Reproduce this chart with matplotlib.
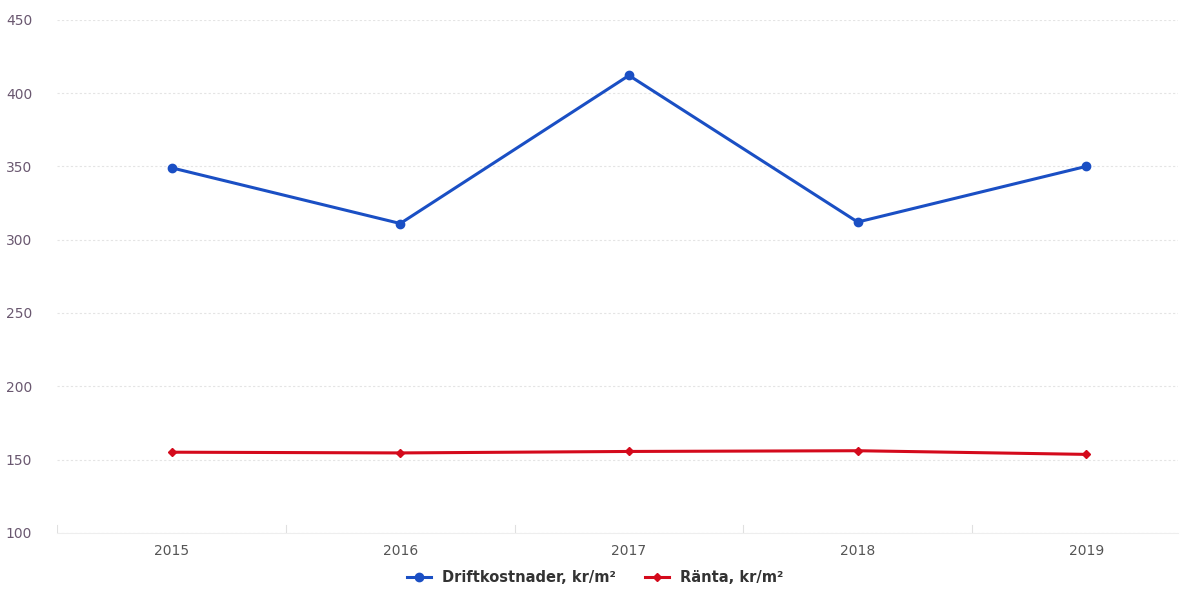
import matplotlib
matplotlib.use("Agg")
import matplotlib.pyplot as plt

years = ["2015", "2016", "2017", "2018", "2019"]
drift = [349, 311, 412, 312, 350]
ranta = [155, 154.5, 155.5, 156, 153.5]
yticks = [100, 150, 200, 250, 300, 350, 400, 450]

fig = plt.figure(figsize=(11.91, 5.98), dpi=100)
ax = fig.add_axes([0.048, 0.109, 0.941, 0.858])

x = range(len(years))
ax.plot(x, drift, color="#1a4fc4", lw=2.2, marker="o", ms=6,
        label="Driftkostnader, kr/m²", zorder=3)
ax.plot(x, ranta, color="#d40a1c", lw=2.2, marker="D", ms=4,
        label="Ränta, kr/m²", zorder=3)

ax.set_ylim(100, 450)
ax.set_xlim(-0.5, 4.4)
ax.set_yticks(yticks)
ax.set_xticks(list(x))
ax.set_xticklabels(years)
ax.grid(axis="y", color="#e4e4e4", lw=0.8, ls=(0, (2, 2)))
ax.set_axisbelow(True)
for s in ax.spines.values():
    s.set_visible(False)
ax.spines["bottom"].set_visible(True)
ax.spines["bottom"].set_color("#eeeeee")
ax.tick_params(axis="y", length=0, pad=18, labelsize=10, labelcolor="#6a5870")
ax.tick_params(axis="x", length=0, pad=8, labelsize=10, labelcolor="#555555")
for b in [-0.5, 0.5, 1.5, 2.5, 3.5]:
    ax.axvline(b, ymin=0, ymax=0.015, color="#e0e0e0", lw=0.8)

leg = fig.legend(loc="lower center", bbox_to_anchor=(0.5, 0.0), ncol=2,
                 frameon=False, prop={"weight": "bold", "size": 10.5},
                 handlelength=1.6, columnspacing=2.0)
for t in leg.get_texts():
    t.set_color("#333333")

fig.savefig("out.png", dpi=100)
